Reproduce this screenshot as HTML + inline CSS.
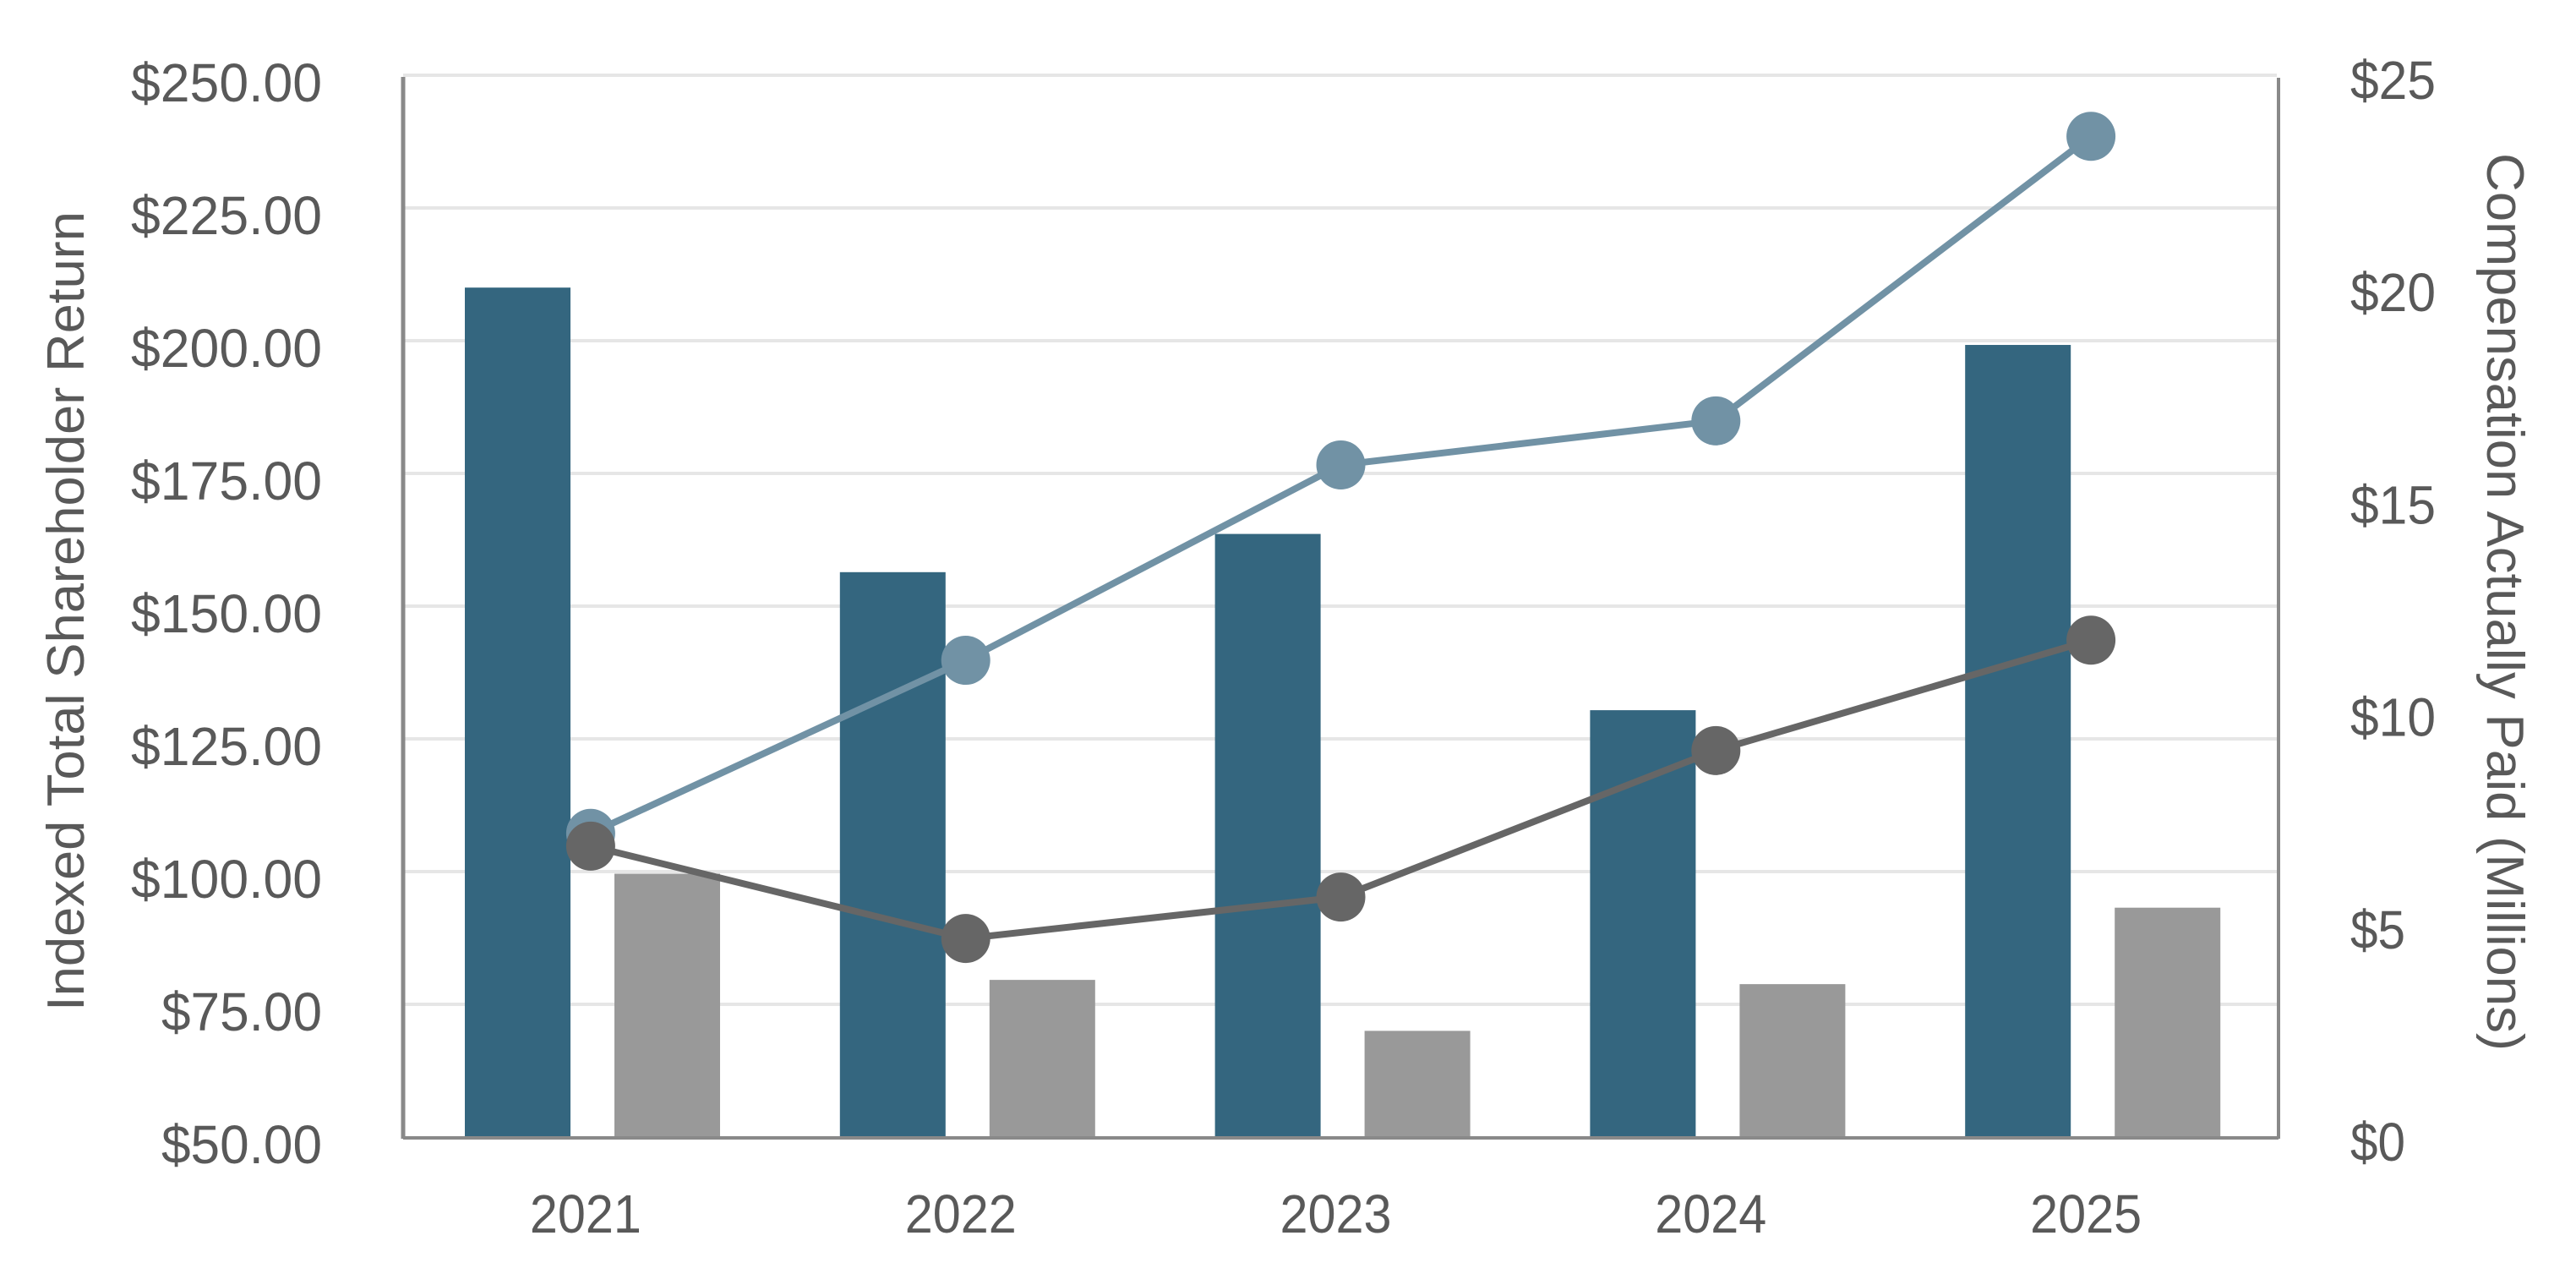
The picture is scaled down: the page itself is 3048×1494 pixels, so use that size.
<!DOCTYPE html>
<html><head><meta charset="utf-8"><style>
html,body{margin:0;padding:0;background:#fff;}
svg{display:block;}
text{font-family:"Liberation Sans",Arial,sans-serif;fill:#595959;}
</style></head><body>
<svg id="chart" width="3048" height="1494" viewBox="0 0 3048 1494" xmlns="http://www.w3.org/2000/svg">
<g id="grid"></g>
<g id="bars"></g>
<g id="axes"></g>
<g id="lines"></g>
<g id="labels"></g>
<text x="0" y="0" font-size="62" text-anchor="middle" textLength="946" lengthAdjust="spacingAndGlyphs" transform="translate(99,723) rotate(-90)">Indexed Total Shareholder Return</text>
<text x="0" y="0" font-size="62" text-anchor="middle" textLength="1062" lengthAdjust="spacingAndGlyphs" transform="translate(2943,712) rotate(90)">Compensation Actually Paid (Millions)</text>
</svg>
<script>
const categories = ['2021','2022','2023','2024','2025'];
const capDark = [20.0, 13.3, 14.2, 10.05, 18.65];
const capGray = [6.2, 3.7, 2.5, 3.6, 5.4];
const tsrLight = [107.2, 139.8, 176.6, 184.9, 238.5];
const tsrDark = [104.8, 87.4, 95.2, 122.8, 143.6];
const leftTicks = ['$50.00','$75.00','$100.00','$125.00','$150.00','$175.00','$200.00','$225.00','$250.00'];
const rightTicks = ['$0','$5','$10','$15','$20','$25'];

const NS='http://www.w3.org/2000/svg';
const X0=477, X1=2696, Y0=1345, Y1=89;
const catW=(X1-X0)/categories.length;
const xc=i=>X0+catW*(i+0.5);
const yL=v=>Y0-(v-50)/200*(Y0-Y1);
const yR=v=>Y0-v/25*(Y0-Y1);
function mk(tag,attrs,parent){const e=document.createElementNS(NS,tag);for(const k in attrs)e.setAttribute(k,attrs[k]);parent.appendChild(e);return e;}
const grid=document.getElementById('grid'),bars=document.getElementById('bars'),axes=document.getElementById('axes'),lines=document.getElementById('lines'),labels=document.getElementById('labels');

leftTicks.forEach((t,i)=>{
  const v=50+25*i, y=yL(v);
  if(i>0){const g=mk('line',{x1:X0,x2:X1-2,y1:y,y2:y,stroke:'#e6e6e6','stroke-width':4},grid);
  
  }
  const tx=mk('text',{x:381,y:y+31,'font-size':64,'text-anchor':'end',textLength:t.length>6?226:190,lengthAdjust:'spacingAndGlyphs'},labels);
  tx.textContent=t;
  
  
});
rightTicks.forEach((t,i)=>{
  const y=yR(5*i);
  const tx=mk('text',{x:2781,y:y+28,'font-size':64,textLength:t.length>2?101:65,lengthAdjust:'spacingAndGlyphs'},labels);
  tx.textContent=t;
  
  
});
categories.forEach((c,i)=>{
  const s=X0+catW*i;
  const b1=mk('rect',{x:s+73,y:yR(capDark[i]),width:125,height:Y0-yR(capDark[i]),fill:'#34667f'},bars);
  
  
  const b2=mk('rect',{x:s+250,y:yR(capGray[i]),width:125,height:Y0-yR(capGray[i]),fill:'#999999'},bars);
  
  
  const tx=mk('text',{x:xc(i)-6,y:1458,'font-size':64,'text-anchor':'middle',textLength:132,lengthAdjust:'spacingAndGlyphs'},labels);
  tx.textContent=c;
  
  
});
const la=mk('line',{x1:X0,x2:X0,y1:Y1+2,y2:Y0+2,stroke:'#898989','stroke-width':5},axes);


const ra=mk('line',{x1:X1,x2:X1,y1:Y1+3,y2:Y0+2,stroke:'#898989','stroke-width':4},axes);


const ba=mk('line',{x1:X0,x2:X1,y1:Y0+1,y2:Y0+1,stroke:'#898989','stroke-width':4},axes);



function series(vals,color,name){
  const pts=vals.map((v,i)=>xc(i)+','+yL(v)).join(' ');
  const pl=mk('polyline',{points:pts,fill:'none',stroke:color,'stroke-width':8,'stroke-linejoin':'round'},lines);
  
  
  vals.forEach((v,i)=>{
    const c=mk('circle',{cx:xc(i),cy:yL(v),r:29,fill:color},lines);
    
    
  });
}
series(tsrLight,'#7192a5','tsr-light');
series(tsrDark,'#666666','tsr-dark');
</script>
</body></html>
